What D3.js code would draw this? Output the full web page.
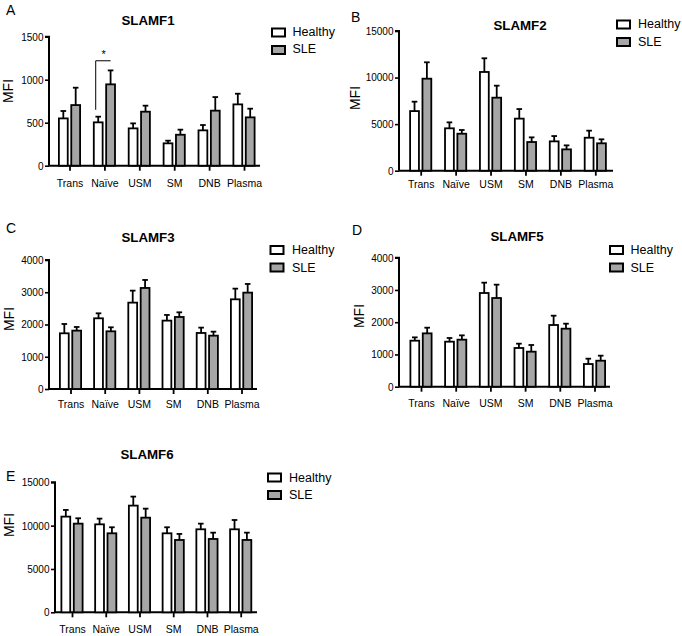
<!DOCTYPE html>
<html>
<head>
<meta charset="utf-8">
<script src="https://cdn.jsdelivr.net/npm/d3@7"></script>
<style>
  html, body { margin: 0; padding: 0; background: #fff; }
  svg { display: block; }
  text { font-family: "Liberation Sans", Arial, Helvetica, sans-serif; fill: #000; }
</style>
</head>
<body>
<svg id="chart" width="682" height="636"></svg>
<script>
// ---------- DATA ----------
const categories = ["Trans", "Naïve", "USM", "SM", "DNB", "Plasma"];
const seriesNames = ["Healthy", "SLE"];
const panelTitles = ["SLAMF1", "SLAMF2", "SLAMF3", "SLAMF5", "SLAMF6"];
const panelLetters = ["A", "B", "C", "D", "E"];
const yAxisLabel = "MFI";

// SLAMF1
const yTicksF1 = [0, 500, 1000, 1500];
const healthyF1 = [550, 504, 434, 260, 411, 713];
const healthyErrF1 = [86, 66, 58, 31, 62, 124];
const sleF1 = [705, 946, 628, 360, 640, 562];
const sleErrF1 = [202, 162, 70, 59, 158, 101];
// significance (Naïve): bracket from 650 to 1220 MFI
const sigCategory = "Naïve";
const sigRange = [650, 1220];
const sigMark = "*";

// SLAMF2
const yTicksF2 = [0, 5000, 10000, 15000];
const healthyF2 = [6400, 4550, 10600, 5590, 3150, 3540];
const healthyErrF2 = [1010, 640, 1470, 1030, 570, 760];
const sleF2 = [9880, 3970, 7840, 3080, 2290, 2940];
const sleErrF2 = [1760, 400, 1290, 500, 430, 430];

// SLAMF3
const yTicksF3 = [0, 1000, 2000, 3000, 4000];
const healthyF3 = [1727, 2192, 2678, 2120, 1737, 2781];
const healthyErrF3 = [289, 155, 372, 176, 166, 331];
const sleF3 = [1810, 1789, 3133, 2233, 1654, 2988];
const sleErrF3 = [113, 124, 248, 145, 124, 269];

// SLAMF5
const yTicksF5 = [0, 1000, 2000, 3000, 4000];
const healthyF5 = [1427, 1396, 2905, 1200, 1913, 703];
const healthyErrF5 = [103, 114, 321, 134, 289, 166];
const sleF5 = [1654, 1458, 2750, 1086, 1799, 806];
const sleErrF5 = [176, 134, 414, 207, 155, 156];

// SLAMF6
const yTicksF6 = [0, 5000, 10000, 15000];
const healthyF6 = [11040, 10150, 12310, 9115, 9577, 9577];
const healthyErrF6 = [770, 660, 1040, 695, 653, 1073];
const sleF6 = [10230, 9115, 10920, 8346, 8461, 8346];
const sleErrF6 = [620, 695, 1040, 694, 729, 844];

const panelData = [
  { ticks: yTicksF1, h: healthyF1, he: healthyErrF1, s: sleF1, se: sleErrF1, sig: true },
  { ticks: yTicksF2, h: healthyF2, he: healthyErrF2, s: sleF2, se: sleErrF2 },
  { ticks: yTicksF3, h: healthyF3, he: healthyErrF3, s: sleF3, se: sleErrF3 },
  { ticks: yTicksF5, h: healthyF5, he: healthyErrF5, s: sleF5, se: sleErrF5 },
  { ticks: yTicksF6, h: healthyF6, he: healthyErrF6, s: sleF6, se: sleErrF6 }
];

// ---------- LAYOUT (positions only) ----------
const layout = [
  { ax: 49,  y0: 165.7, y1: 36.7,  gx: [69.5, 244],   xEnd: 260, xlab: 187,
    title: [148, 25],  letter: [6, 15],    leg: [272, 28.5, 292.5, 35.7], mfi: [13, 91] },
  { ax: 399, y0: 170.7, y1: 31,    gx: [420.7, 595.3], xEnd: 613, xlab: 188,
    title: [520, 30],  letter: [351, 21.5], leg: [617, 20.5, 638, 28.3], mfi: [360, 98] },
  { ax: 49,  y0: 389,   y1: 260,   gx: [70.5, 241.5],  xEnd: 257, xlab: 407.5,
    title: [148, 242], letter: [6, 233],   leg: [270.5, 246, 292, 254], mfi: [14, 319] },
  { ax: 399, y0: 386.7, y1: 257.7, gx: [421, 594.5],   xEnd: 610, xlab: 407,
    title: [517, 240.5], letter: [352, 235], leg: [610, 246, 630.5, 254], mfi: [364, 316] },
  { ax: 55,  y0: 612.3, y1: 482.3, gx: [72, 240.7],    xEnd: 257, xlab: 633,
    title: [147, 459], letter: [6, 481],   leg: [268, 473.5, 289, 481.7], mfi: [14, 525] }
];

const fills = { Healthy: "#ffffff", SLE: "#a6a6a6" };

const svg = d3.select("#chart");

panelData.forEach((pd, i) => {
  const L = layout[i];
  const g = svg.append("g");

  const y = d3.scaleLinear()
    .domain([0, d3.max(pd.ticks)])
    .range([L.y0, L.y1]);

  const x = d3.scalePoint()
    .domain(categories)
    .range(L.gx);

  const inner = d3.scaleBand()
    .domain(seriesNames)
    .range([-11.5, 11.5])
    .paddingInner(0.14);

  // Y axis
  const yAxis = d3.axisLeft(y).tickValues(pd.ticks).tickSize(4).tickPadding(1.5).tickFormat(d3.format("d"));
  const yg = g.append("g").attr("transform", `translate(${L.ax},0)`).call(yAxis);
  yg.select(".domain").attr("d", `M-4,${L.y1}H0V${L.y0}`).attr("stroke-width", 2).attr("stroke", "#000");
  yg.selectAll(".tick line").attr("stroke-width", 1.6);
  yg.selectAll(".tick text").style("font-size", "10px").attr("dy", "0.34em");

  // X axis
  const xAxis = d3.axisBottom(x).tickSize(5).tickPadding(2);
  const xg = g.append("g").attr("transform", `translate(0,${L.y0})`).call(xAxis);
  xg.select(".domain").attr("d", `M${L.ax},0H${L.xEnd}`).attr("stroke-width", 2).attr("stroke", "#000");
  xg.selectAll(".tick line").attr("stroke-width", 1.8);
  xg.selectAll(".tick text")
    .attr("y", L.xlab - L.y0).attr("dy", 0)
    .style("font-size", "10.5px");

  // Bars
  const rows = categories.map((c, k) => ({
    cat: c,
    vals: [
      { name: "Healthy", v: pd.h[k], e: pd.he[k] },
      { name: "SLE", v: pd.s[k], e: pd.se[k] }
    ]
  }));

  const grp = g.append("g").selectAll("g").data(rows).join("g")
    .attr("transform", d => `translate(${x(d.cat)},0)`);

  const bar = grp.selectAll("g").data(d => d.vals).join("g");

  bar.append("line")
    .attr("x1", d => inner(d.name) + inner.bandwidth() / 2)
    .attr("x2", d => inner(d.name) + inner.bandwidth() / 2)
    .attr("y1", d => y(d.v))
    .attr("y2", d => y(d.v + d.e))
    .attr("stroke", "#000").attr("stroke-width", 1.8);
  bar.append("line")
    .attr("x1", d => inner(d.name) + inner.bandwidth() / 2 - 2.8)
    .attr("x2", d => inner(d.name) + inner.bandwidth() / 2 + 2.8)
    .attr("y1", d => y(d.v + d.e))
    .attr("y2", d => y(d.v + d.e))
    .attr("stroke", "#000").attr("stroke-width", 1.8);

  bar.append("rect")
    .attr("x", d => inner(d.name) + 0.9)
    .attr("width", inner.bandwidth() - 1.8)
    .attr("y", d => y(d.v))
    .attr("height", d => y(0) - y(d.v))
    .attr("fill", d => fills[d.name])
    .attr("stroke", "#000").attr("stroke-width", 1.8);

  // significance bracket
  if (pd.sig) {
    const cx = x(sigCategory);
    const hx = cx + inner("Healthy") + inner.bandwidth() / 2 - 2.5;
    const sx = cx + inner("SLE") + inner.bandwidth() / 2;
    g.append("path")
      .attr("d", `M${hx},${y(sigRange[0])}V${y(sigRange[1])}H${sx}`)
      .attr("fill", "none").attr("stroke", "#000").attr("stroke-width", 1);
    g.append("text")
      .attr("x", (hx + sx) / 2 + 0.5)
      .attr("y", y(sigRange[1]) - 3)
      .attr("text-anchor", "middle")
      .style("font-size", "11px")
      .text(sigMark);
  }

  // Title
  g.append("text")
    .attr("x", L.title[0]).attr("y", L.title[1])
    .attr("text-anchor", "middle")
    .style("font-size", "13.3px").style("font-weight", "bold")
    .text(panelTitles[i]);

  // Panel letter
  g.append("text")
    .attr("x", L.letter[0]).attr("y", L.letter[1])
    .style("font-size", "14px")
    .text(panelLetters[i]);

  // MFI label
  g.append("text")
    .attr("transform", `translate(${L.mfi[0]},${L.mfi[1]}) rotate(-90)`)
    .attr("text-anchor", "middle")
    .style("font-size", "14px")
    .text(yAxisLabel);

  // Legend
  const lg = g.append("g");
  seriesNames.forEach((s, k) => {
    lg.append("rect")
      .attr("x", L.leg[0]).attr("y", L.leg[1] + k * 17.5)
      .attr("width", 13).attr("height", 8)
      .attr("fill", fills[s]).attr("stroke", "#000").attr("stroke-width", 2);
    lg.append("text")
      .attr("x", L.leg[2]).attr("y", L.leg[3] + k * 17.5)
      .style("font-size", "12.5px")
      .text(s);
  });
});
</script>
</body>
</html>
